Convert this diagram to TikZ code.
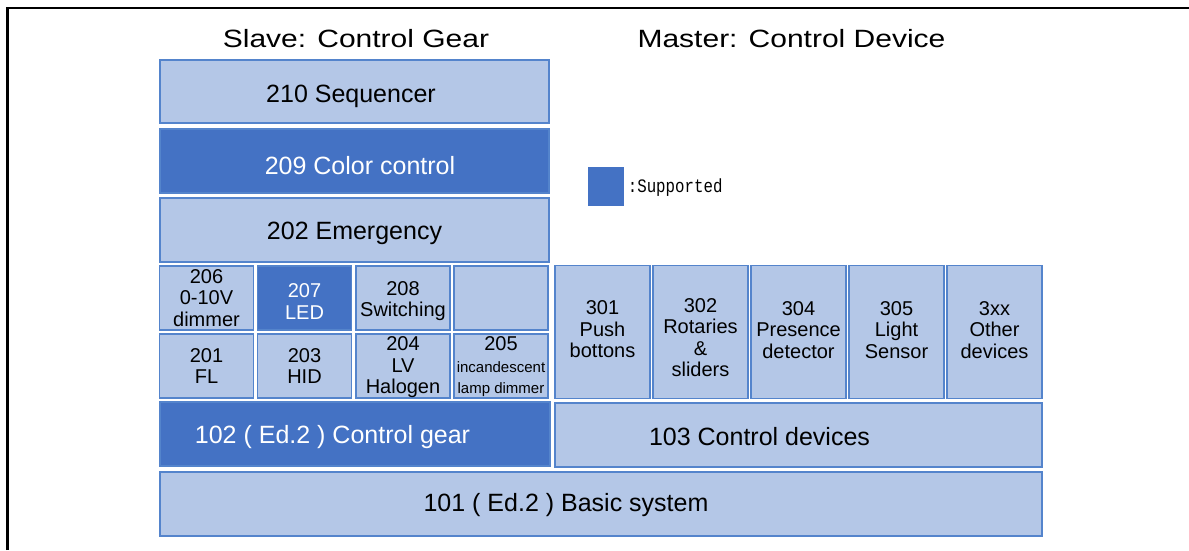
\documentclass[tikz,border=0pt]{standalone}
\usepackage{fontspec}
\setmainfont{Liberation Sans}
\newfontfamily\titlefont[FakeStretch=1.2]{Liberation Sans}
\newfontfamily\legendfont[FakeStretch=0.83]{Liberation Mono}
\definecolor{pale}{RGB}{180,199,231}
\definecolor{deep}{RGB}{68,114,196}
\definecolor{edge}{RGB}{84,132,204}
\newcommand{\smalltxt}{\fontsize{15}{18}\selectfont}

\tikzset{
  box/.style={rectangle, draw=edge, fill=pale, line width=1.3pt, inner sep=0pt,
    minimum width=94, minimum height=64},
  supported/.style={box, fill=deep},
  every label/.style={inner sep=0pt, align=center, font=\fontsize{20}{21.5}\selectfont},
  big/.style={font=\fontsize{25}{30}\selectfont},
  heading/.style={font=\titlefont\fontsize{25}{30}\selectfont}
}

\begin{document}
\begin{tikzpicture}[x=1pt, y=-1pt]
 \useasboundingbox (0,0) rectangle (1189,550);
 \draw[line width=2.5pt] (7.5,550) -- (7.5,8) -- (1189,8);
 \node (slave) [heading] at (356,39) {Slave: Control Gear};
 \node (master) [heading] at (791.5,39) {Master: Control Device};
 % legend
 \node (key) [supported, draw=none, minimum width=36, minimum height=39,
   label={[font=\legendfont\fontsize{19}{19}\selectfont, label distance=3pt, yshift=-1.5pt]right:{:Supported}}] at (606,186.5) {};
 % control gear
 \node (g210) [box, minimum width=389, minimum height=63, label={[big, xshift=-3.5pt, yshift=-4.5pt]center:210 Sequencer}] at (354.5,91.5) {};
 \node (g209) [supported, minimum width=389, label={[big, white, xshift=5.5pt, yshift=-5pt]center:209 Color control}] at (354.5,161) {};
 \node (g202) [box, minimum width=389, label={[big, yshift=-3pt]center:202 Emergency}] at (354.5,230) {};
 \node (g206) [box, label={[yshift=0pt]center:206\\0-10V\\dimmer}] at (206.5,298) {};
 \node (g207) [supported, label={[white, yshift=-3.5pt]center:207\\LED}] at (304.5,298) {};
 \node (g208) [box, label={[yshift=-3pt]center:208\\Switching}] at (403,298) {};
 \node (gfree) [box] at (501,298) {};
 \node (g201) [box, label={center:201\\FL}] at (206.5,366) {};
 \node (g203) [box, label={center:203\\HID}] at (304.5,366) {};
 \node (g204) [box, label={[yshift=-1.5pt]center:204\\LV\\Halogen}] at (403,366) {};
 \node (g205) [box, label={[yshift=-1pt]center:205\\\smalltxt incandescent\\\smalltxt lamp dimmer}] at (501,366) {};
 \node (g102) [supported, minimum width=390, label={[big, white, xshift=-22.5pt, yshift=-3pt]center:102 ( Ed.2 ) Control gear}] at (355,434) {};
 % control devices
 \node (d301) [box, minimum width=95, minimum height=133, label={[yshift=2.5pt]center:301\\Push\\bottons}] at (602.5,332) {};
 \node (d302) [box, minimum width=95, minimum height=133, label={[yshift=-5.5pt]center:302\\Rotaries\\\&\\sliders}] at (700.5,332) {};
 \node (d304) [box, minimum width=95, minimum height=133, label={[yshift=2pt]center:304\\Presence\\detector}] at (798.5,332) {};
 \node (d305) [box, minimum width=95, minimum height=133, label={[yshift=2pt]center:305\\Light\\Sensor}] at (896.5,332) {};
 \node (d3xx) [box, minimum width=95, minimum height=133, label={[yshift=2pt]center:3xx\\Other\\devices}] at (994.5,332) {};
 \node (d103) [box, minimum width=487, label={[big, xshift=-39pt, yshift=-2pt]center:103 Control devices}] at (798.5,435) {};
 % basic
 \node (b101) [box, minimum width=882, label={[big, xshift=-35pt, yshift=-1pt]center:101 ( Ed.2 ) Basic system}] at (601,504) {};
\end{tikzpicture}
\end{document}
